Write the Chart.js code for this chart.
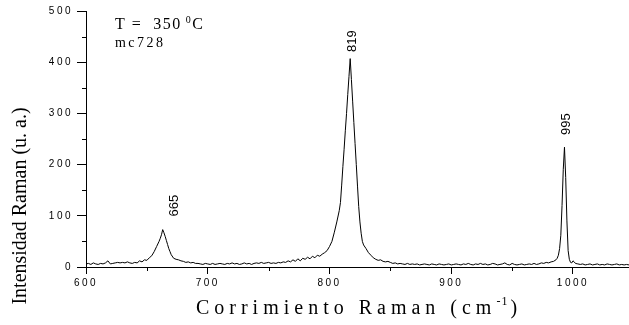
<!DOCTYPE html>
<html>
<head>
<meta charset="utf-8">
<script src="https://cdn.jsdelivr.net/npm/chart.js@4.4.1/dist/chart.umd.min.js"></script>
<style>
  html, body { margin: 0; padding: 0; background: #fff; }
  #chart { display: block; }
</style>
</head>
<body>
<canvas id="chart" width="629" height="325"></canvas>
<script>
// Raman shift (cm-1) and intensity (u. a.)
const ramanShift = [
    600, 602, 604, 606, 608, 610, 612, 614, 616, 618, 620, 622, 624, 626, 628, 630, 632, 634, 636, 638,
    640, 642, 644, 646, 648, 650, 652, 654, 656, 658, 660, 661, 662, 663, 664, 665, 666, 667, 668, 669,
    670, 672, 674, 676, 678, 680, 682, 684, 686, 688, 690, 692, 694, 696, 698, 700, 702, 704, 706, 708,
    710, 712, 714, 716, 718, 720, 722, 724, 726, 728, 730, 732, 734, 736, 738, 740, 742, 744, 746, 748,
    750, 752, 754, 756, 758, 760, 762, 764, 766, 768, 770, 772, 774, 776, 778, 780, 782, 784, 786, 788,
    790, 792, 794, 796, 798, 800, 802, 804, 806, 808, 809, 810, 811, 812, 813, 814, 815, 816, 817, 818,
    819, 820, 821, 822, 823, 824, 825, 826, 827, 828, 830, 832, 834, 836, 838, 840, 842, 844, 846, 848,
    850, 852, 854, 856, 858, 860, 862, 864, 866, 868, 870, 872, 874, 876, 878, 880, 882, 884, 886, 888,
    890, 892, 894, 896, 898, 900, 902, 904, 906, 908, 910, 912, 914, 916, 918, 920, 922, 924, 926, 928,
    930, 932, 934, 936, 938, 940, 942, 944, 946, 948, 950, 952, 954, 956, 958, 960, 962, 964, 966, 968,
    970, 972, 974, 976, 978, 980, 982, 984, 986, 987, 988, 989, 990, 991, 992, 993, 994, 995, 996, 997,
    998, 999, 1000, 1001, 1002, 1004, 1006, 1008, 1010, 1012, 1014, 1016, 1018, 1020, 1022, 1024, 1026, 1028, 1030, 1032,
    1034, 1036, 1038, 1040, 1042, 1044, 1046
];
const intensity = [
    6, 7, 5, 8, 6, 5, 7, 6, 8, 12, 6, 7, 8, 9, 8, 9, 8, 10, 8, 7,
    9, 8, 12, 10, 14, 13, 18, 22, 30, 40, 50, 56, 63, 73, 67, 60, 52, 44, 36, 30,
    24, 17, 15, 14, 12, 11, 9, 10, 8, 9, 7, 7, 6, 5, 7, 6, 5, 7, 5, 6,
    7, 6, 5, 7, 6, 8, 6, 7, 5, 6, 8, 6, 7, 5, 7, 8, 7, 9, 7, 8,
    9, 7, 8, 7, 9, 8, 10, 9, 12, 10, 14, 11, 16, 12, 17, 15, 19, 16, 21, 18,
    23, 21, 25, 28, 32, 40, 50, 68, 88, 110, 126, 160, 196, 230, 266, 300, 337, 372, 407, 366,
    324, 282, 241, 200, 158, 118, 88, 66, 50, 43, 36, 28, 23, 18, 15, 13, 14, 11, 10, 11,
    9, 7, 8, 6, 7, 6, 5, 7, 5, 6, 5, 6, 4, 5, 6, 5, 4, 6, 5, 4,
    6, 5, 4, 5, 6, 4, 5, 6, 5, 4, 6, 5, 7, 5, 4, 6, 5, 7, 5, 6,
    4, 5, 7, 6, 4, 5, 6, 8, 5, 4, 7, 5, 4, 5, 6, 4, 5, 6, 5, 7,
    5, 6, 8, 7, 9, 8, 10, 11, 14, 17, 23, 36, 62, 120, 190, 234, 175, 90, 32, 15,
    9, 8, 12, 10, 7, 6, 5, 6, 4, 5, 6, 4, 5, 6, 4, 5, 4, 6, 5, 4,
    5, 6, 4, 5, 4, 5, 4
];

// peak labels and where they sit (data units)
const peakLabels = ['665', '819', '995'];
const peakLabelX = [672.6, 819, 994.2];
const peakLabelY = [120, 441, 279];

const sampleTemp = 'T =  350';
const sampleName = 'mc728';
const xTitle = 'Corrimiento Raman (cm';
const yTitle = 'Intensidad Raman (u. a.)';

const serif = '"Liberation Serif", "Times New Roman", serif';

const extras = {
    id: 'extras',
    beforeDraw(chart) {
        chart.ctx.letterSpacing = '2.5px';
    },
    afterDraw(chart) {
        const ctx = chart.ctx;
        const xs = chart.scales.x;
        const ys = chart.scales.y;
        const area = chart.chartArea;
        ctx.save();
        ctx.letterSpacing = '0px';
        ctx.fillStyle = '#000';
        ctx.strokeStyle = '#000';
        ctx.lineWidth = 1;

        // minor ticks halfway between the labelled ones
        ctx.beginPath();
        xs.ticks.forEach(t => {
            const v = t.value + 50;
            if (v > xs.max) return;
            const px = Math.round(xs.getPixelForValue(v)) + 0.5;
            ctx.moveTo(px, area.bottom);
            ctx.lineTo(px, area.bottom + 4);
        });
        ys.ticks.forEach(t => {
            const v = t.value + 50;
            if (v > ys.max) return;
            const py = Math.round(ys.getPixelForValue(v)) + 0.5;
            ctx.moveTo(area.left, py);
            ctx.lineTo(area.left - 4, py);
        });
        ctx.stroke();

        // peak labels
        ctx.font = '13px "Liberation Sans", Arial, sans-serif';
        ctx.textAlign = 'center';
        ctx.textBaseline = 'middle';
        peakLabels.forEach((txt, i) => {
            ctx.save();
            ctx.translate(xs.getPixelForValue(peakLabelX[i]), ys.getPixelForValue(peakLabelY[i]));
            ctx.rotate(-Math.PI / 2);
            ctx.fillText(txt, 0, 0);
            ctx.restore();
        });

        // sample info, top left
        ctx.textAlign = 'left';
        ctx.textBaseline = 'alphabetic';
        let tx = xs.getPixelForValue(623.8);
        const ty = ys.getPixelForValue(464);
        ctx.font = '16px ' + serif;
        ctx.letterSpacing = '1.5px';
        ctx.fillText(sampleTemp, tx, ty);
        tx += ctx.measureText(sampleTemp).width + 4;
        ctx.font = '10px ' + serif;
        ctx.fillText('0', tx, ty - 6);
        tx += ctx.measureText('0').width;
        ctx.font = '16px ' + serif;
        ctx.fillText('C', tx, ty);

        ctx.font = '14px ' + serif;
        ctx.letterSpacing = '2.5px';
        ctx.fillText(sampleName, xs.getPixelForValue(623.8), ys.getPixelForValue(430));

        // x axis title with superscript
        ctx.font = '20px ' + serif;
        ctx.letterSpacing = '5px';
        const mainW = ctx.measureText(xTitle).width;
        ctx.font = '12px ' + serif;
        ctx.letterSpacing = '1px';
        const supW = ctx.measureText('-1').width;
        ctx.font = '20px ' + serif;
        ctx.letterSpacing = '0px';
        const closeW = ctx.measureText(')').width;
        let x0 = (area.left + area.right) / 2 - (mainW + 4 + supW + closeW) / 2;
        const xb = 314;
        ctx.letterSpacing = '5px';
        ctx.fillText(xTitle, x0, xb);
        x0 += mainW;
        ctx.font = '12px ' + serif;
        ctx.letterSpacing = '1px';
        ctx.fillText('-1', x0, xb - 9);
        x0 += supW + 2;
        ctx.font = '20px ' + serif;
        ctx.letterSpacing = '0px';
        ctx.fillText(')', x0, xb);

        // y axis title
        ctx.save();
        ctx.font = '20px ' + serif;
        ctx.letterSpacing = '0px';
        ctx.textAlign = 'center';
        ctx.translate(26, 206);
        ctx.rotate(-Math.PI / 2);
        ctx.fillText(yTitle, 0, 0);
        ctx.restore();

        ctx.restore();
    }
};

const ctx = document.getElementById('chart').getContext('2d');
new Chart(ctx, {
    type: 'line',
    data: {
        datasets: [{
            label: 'mc728',
            data: ramanShift.map((x, i) => ({ x: x, y: intensity[i] })),
            borderColor: '#000',
            borderWidth: 1,
            pointRadius: 0,
            tension: 0,
            fill: false
        }]
    },
    options: {
        responsive: false,
        animation: false,
        devicePixelRatio: 1,
        layout: {
            padding: { top: 11, right: 0, left: 0, bottom: 0 }
        },
        scales: {
            x: {
                type: 'linear',
                min: 600,
                max: 1046,
                afterFit: s => { s.height = 58; },
                ticks: {
                    stepSize: 100,
                    includeBounds: false,
                    maxRotation: 0,
                    padding: 3,
                    color: '#000',
                    font: { family: '"Liberation Sans", Arial, sans-serif', size: 10 },
                    callback: v => String(v)
                },
                grid: {
                    drawOnChartArea: false,
                    tickLength: 7,
                    color: '#000'
                },
                border: { color: '#000', width: 1 }
            },
            y: {
                min: 0,
                max: 500,
                afterFit: s => { s.width = 86; },
                ticks: {
                    stepSize: 100,
                    padding: 4,
                    color: '#000',
                    font: { family: '"Liberation Sans", Arial, sans-serif', size: 10 },
                    callback: v => String(v)
                },
                grid: {
                    drawOnChartArea: false,
                    tickLength: 9,
                    color: '#000'
                },
                border: { color: '#000', width: 1 }
            }
        },
        plugins: {
            legend: { display: false },
            tooltip: { enabled: false }
        }
    },
    plugins: [extras]
});
</script>
</body>
</html>
